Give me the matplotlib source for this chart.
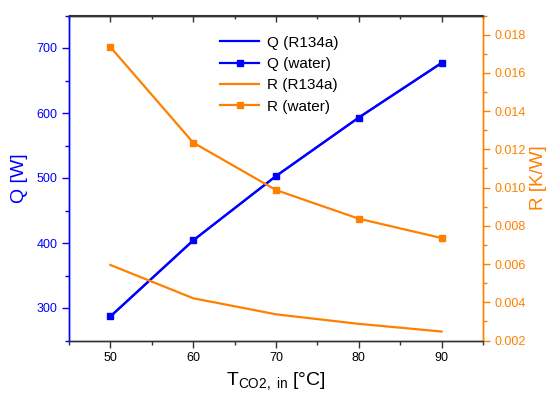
import matplotlib
matplotlib.use("Agg")
import matplotlib.pyplot as plt
from matplotlib.ticker import MultipleLocator

plt.rcParams['font.family'] = ['Liberation Sans', 'DejaVu Sans']
plt.rcParams['mathtext.fontset'] = 'custom'
plt.rcParams['mathtext.rm'] = 'Liberation Sans'
plt.rcParams['mathtext.it'] = 'Liberation Sans:italic'

T = [50, 60, 70, 80, 90]
Q_r134a = [287, 404, 503, 593, 677]
Q_water = [287, 404, 503, 593, 677]
R_r134a = [0.00595, 0.00421, 0.00337, 0.00287, 0.00247]
R_water = [0.01735, 0.01235, 0.00987, 0.00837, 0.00736]
R_ticks = [0.002, 0.004, 0.006, 0.008, 0.010, 0.012, 0.014, 0.016, 0.018]

BLUE = '#0000FF'
ORANGE = '#FF8000'
GREY = '#333333'

fig = plt.figure(figsize=(5.48, 3.99), dpi=100)
ax = fig.add_axes([69/548, 1-340.5/399, (483-69)/548, (340.5-15.5)/399])
ax2 = ax.twinx()

l1, = ax.plot(T, Q_r134a, color=BLUE, lw=1.6, label='Q (R134a)')
l2, = ax.plot(T, Q_water, color=BLUE, lw=1.6, marker='s', ms=5, label='Q (water)')
l3, = ax2.plot(T, R_r134a, color=ORANGE, lw=1.6, label='R (R134a)')
l4, = ax2.plot(T, R_water, color=ORANGE, lw=1.6, marker='s', ms=5, label='R (water)')

ax.set_xlim(45, 95)
ax.set_ylim(250, 750)
ax2.set_ylim(0.002, 0.019)

ax.xaxis.set_major_locator(MultipleLocator(10))
ax.xaxis.set_minor_locator(MultipleLocator(5))
ax.yaxis.set_major_locator(MultipleLocator(100))
ax.yaxis.set_minor_locator(MultipleLocator(50))
ax2.yaxis.set_minor_locator(MultipleLocator(0.001))
ax2.set_yticks(R_ticks)
ax2.set_yticklabels(['%.3f' % v for v in R_ticks])

for a in (ax, ax2):
    a.spines['top'].set_color(GREY)
    a.spines['bottom'].set_color(GREY)
    a.spines['left'].set_color(BLUE)
    a.spines['right'].set_color(ORANGE)
    for s in a.spines.values():
        s.set_linewidth(1.0)

ax.tick_params(axis='x', which='both', direction='out', colors=GREY, labelcolor='black',
               labelsize=9, top=False)
ax.tick_params(axis='x', which='major', length=5, width=1)
ax.tick_params(axis='x', which='minor', length=3, width=1)
secx = ax.secondary_xaxis('top')
secx.xaxis.set_major_locator(MultipleLocator(10))
secx.xaxis.set_minor_locator(MultipleLocator(5))
secx.tick_params(axis='x', which='both', direction='in', colors=GREY, labeltop=False)
secx.tick_params(axis='x', which='major', length=5, width=1)
secx.tick_params(axis='x', which='minor', length=3, width=1)
secx.spines['top'].set_color(GREY)

ax.tick_params(axis='y', which='both', direction='out', colors=BLUE, labelsize=9)
ax.tick_params(axis='y', which='major', length=5, width=1)
ax.tick_params(axis='y', which='minor', length=3, width=1)
ax2.tick_params(axis='y', which='both', direction='out', colors=ORANGE, labelsize=9)
ax2.tick_params(axis='y', which='major', length=5, width=1)
ax2.tick_params(axis='y', which='minor', length=3, width=1)

ax.set_ylabel('Q [W]', color=BLUE, fontsize=14, labelpad=6)
ax2.set_ylabel('R [K/W]', color=ORANGE, fontsize=13.5, labelpad=3)
ax.set_xlabel(r'T$_{\mathrm{CO2,\ in}}$ [°C]', fontsize=14, labelpad=4)

leg = ax2.legend(handles=[l1, l2, l3, l4], loc='upper left',
                 bbox_to_anchor=(212/548, 1-28/399), bbox_transform=fig.transFigure,
                 frameon=False, fontsize=11, handlelength=2.6, handletextpad=0.5,
                 labelspacing=0.48, borderpad=0)

fig.savefig('out.png', dpi=100)
